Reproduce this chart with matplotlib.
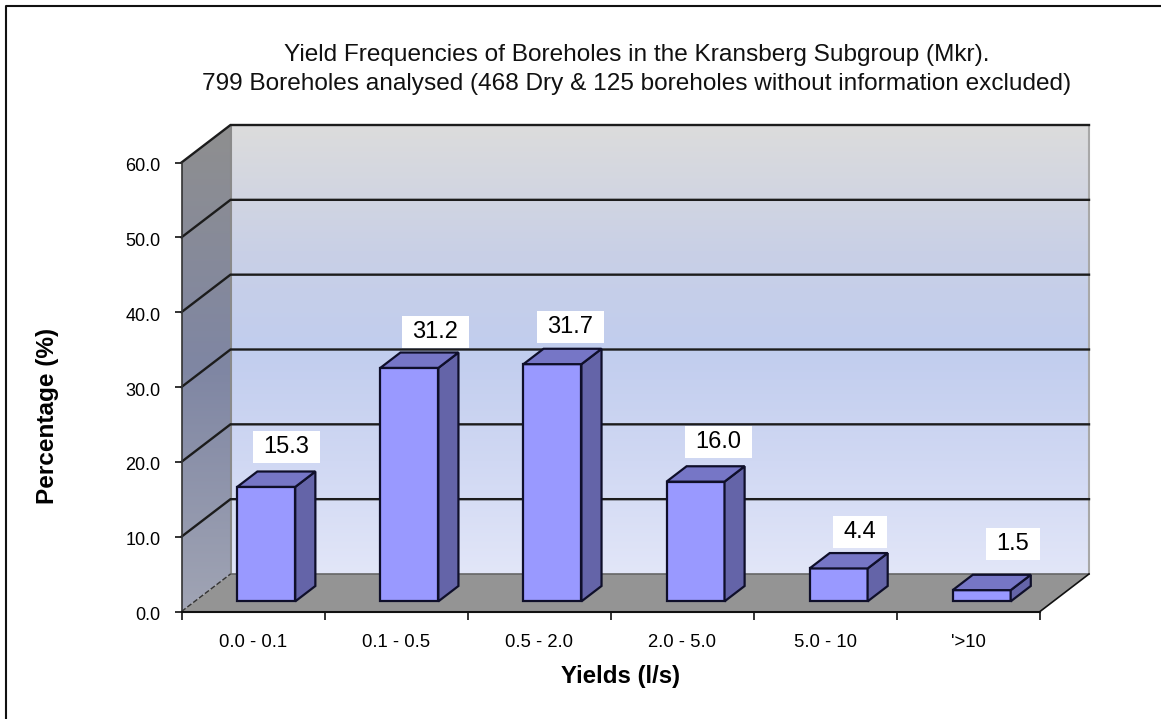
import numpy as np
import matplotlib
matplotlib.use("Agg")
import matplotlib.pyplot as plt
from matplotlib.lines import Line2D
from matplotlib.patches import Polygon, Rectangle
from matplotlib.path import Path
from matplotlib.colors import LinearSegmentedColormap
from matplotlib.transforms import ScaledTranslation

plt.rcParams['font.family'] = ['Liberation Sans', 'DejaVu Sans']

categories = ['0.0 - 0.1', '0.1 - 0.5', '0.5 - 2.0', '2.0 - 5.0', '5.0 - 10', "'>10"]
values = [15.3, 31.2, 31.7, 16.0, 4.4, 1.5]
y_ticks = [0, 10, 20, 30, 40, 50, 60]
# the labels were moved by hand in the original, pixels right / down
label_nudge = [(0, 0), (6, 4), (-2, 3), (3, 1), (1, 4), (11, -6)]

W, H = 1161, 719
fig = plt.figure(figsize=(W/100, H/100), dpi=100)
# frame only on the left and top, the image is cut off at the other sides
fig.add_artist(Line2D([5.5/W, 5.5/W, 1], [0, 1-5.5/H, 1-5.5/H], color='#111111', lw=1.5))

# front plane of the fake 3d box
left, right, top, bottom = 181.5, 1040, 162.5, 611.5
ax = fig.add_axes([left/W, 1-bottom/H, (right-left)/W, (bottom-top)/H])
ax.set_xlim(0, 6)
ax.set_ylim(0, 60)
ax.patch.set_visible(False)

# depth of the box in data units
ux = (right-left)/6
uy = (bottom-top)/60
dx = 49/ux
dy = 37.5/uy

def pt(x, y, d=0.0):
    return (x+d*dx, y+d*dy)

def gradient(stops, extent, clip=None, z=1):
    cmap = LinearSegmentedColormap.from_list('g', stops)
    im = ax.imshow(np.linspace(0, 1, 256).reshape(-1, 1), cmap=cmap, extent=extent,
                   aspect='auto', origin='upper', zorder=z)
    if clip is not None:
        poly = Polygon(clip, transform=ax.transData, fc='none', ec='none', clip_on=False)
        ax.add_patch(poly)
        im.set_clip_path(poly)
    else:
        im.set_clip_path(Rectangle((extent[0], extent[2]), extent[1]-extent[0], extent[3]-extent[2],
                                   transform=ax.transData))
    return im

# white box behind the data labels, wider than it is high
def label_box(x0, y0, width, height, mutation_size):
    px, py = 10.5, 5
    x0, x1 = x0-px, x0+width+px
    y0, y1 = y0-py, y0+height+py
    return Path([(x0, y0), (x1, y0), (x1, y1), (x0, y1), (x0, y0)], closed=True)

# back wall
gradient([(0, '#dcdcdc'), (0.28, '#c9d0e6'), (0.5, '#c1cdee'), (0.75, '#d0d8f3'), (1, '#e2e6f8')],
         (dx, 6+dx, dy, 60+dy))
# left wall
wall = gradient([(0, '#8f8f8f'), (0.5, '#7f86a3'), (1, '#a0a4b4')],
                (0, dx, 0, 60+dy),
                clip=[pt(0, 0), pt(0, 0, 1), pt(0, 60, 1), pt(0, 60)])
wall.set_clip_box(fig.bbox)
ax.add_patch(Polygon([pt(0, 0, 1), pt(0, 60, 1)], closed=False, fill=False, ec='#8a8a8a', lw=1.5,
                     clip_on=False, zorder=2))
ax.add_patch(Polygon([pt(6, 0, 1), pt(6, 60, 1)], closed=False, fill=False, ec='#a8a8a8', lw=1.5,
                     clip_on=False, zorder=2))

# floor
ax.add_patch(Polygon([pt(0, 0), pt(6, 0), pt(6, 0, 1), pt(0, 0, 1)], fc='#949494', ec='none',
                     clip_on=False, zorder=2))
ax.plot(*zip(pt(0, 0, 1), pt(6, 0, 1)), color='#666666', lw=1.2, clip_on=False, zorder=3)
ax.plot(*zip(pt(6, 0), pt(6, 0, 1)), color='#111111', lw=1.2, clip_on=False, zorder=3)
ax.plot(*zip(pt(0, 0), pt(0, 0, 1)), color='#333333', lw=1, ls='--', clip_on=False, zorder=3)

# grid lines, wall and back
for v in y_ticks[1:]:
    ax.plot(*zip(pt(0, v), pt(0, v, 1), pt(6, v, 1)), color='#1c1c1c', lw=1.7,
            clip_on=False, zorder=3, solid_joinstyle='miter')

# bars
bar_w = 58/ux
for i, v in enumerate(values):
    x0 = i+0.5-bar_w/2
    x1 = x0+bar_w
    d0, d1 = 0.27, 0.68
    y0 = 0
    ax.add_patch(Polygon([pt(x0, y0, d0), pt(x1, y0, d0), pt(x1, v, d0), pt(x0, v, d0)],
                         fc='#9999ff', ec='#0f0f2a', lw=1.6, clip_on=False, zorder=5))
    ax.add_patch(Polygon([pt(x1, y0, d0), pt(x1, y0, d1), pt(x1, v, d1), pt(x1, v, d0)],
                         fc='#6464a8', ec='#0f0f2a', lw=1.6, clip_on=False, zorder=5))
    ax.add_patch(Polygon([pt(x0, v, d0), pt(x1, v, d0), pt(x1, v, d1), pt(x0, v, d1)],
                         fc='#7676c6', ec='#0f0f2a', lw=1.6, clip_on=False, zorder=5))
    nx, ny = label_nudge[i]
    ax.annotate('%.1f' % v, xy=pt(i+0.5, v, d0), xytext=(14.5+nx*0.72, 29-ny*0.72),
                textcoords='offset points', ha='center', va='center', fontsize=17,
                color='black', zorder=6, bbox=dict(boxstyle=label_box, fc='white', ec='none'))

# axes
for s in ['top', 'right']:
    ax.spines[s].set_visible(False)
ax.spines['left'].set_color('#333333')
ax.spines['bottom'].set_color('#111111')
ax.spines['left'].set_linewidth(1.2)
ax.spines['bottom'].set_linewidth(1.5)
ax.spines['left'].set_zorder(4)
ax.spines['bottom'].set_zorder(4)
ax.set_yticks(y_ticks)
ax.set_yticklabels(['%.1f' % v for v in y_ticks], fontsize=13)
ax.set_xticks(range(7))
ax.set_xticklabels([])
ax.set_xticks(np.arange(6)+0.5, labels=categories, minor=True, fontsize=13.3)
ax.tick_params(axis='x', which='minor', length=0, pad=16)
ax.tick_params(axis='x', which='major', length=6, width=1.2, color='#111111')
ax.tick_params(axis='y', length=5, width=1.2, color='#111111', pad=10)
for lab in ax.get_yticklabels():
    lab.set_transform(lab.get_transform()+ScaledTranslation(0, -2/100, fig.dpi_scale_trans))

ax.set_xlabel('Yields (l/s)', fontsize=17.3, fontweight='bold')
ax.xaxis.set_label_coords((621-left)/(right-left), (bottom-665)/(bottom-top))
ax.set_ylabel('Percentage (%)', fontsize=17.6, fontweight='bold')
ax.yaxis.set_label_coords((59-left)/(right-left), (bottom-416)/(bottom-top))

fig.text(637/W, 1-69.5/H, 'Yield Frequencies of Boreholes in the Kransberg Subgroup (Mkr).\n'
         '799 Boreholes analysed (468 Dry & 125 boreholes without information excluded)',
         ha='center', va='center', fontsize=17.6, linespacing=1.38, color='#111111')

fig.savefig('out.png', dpi=100, facecolor='white')
